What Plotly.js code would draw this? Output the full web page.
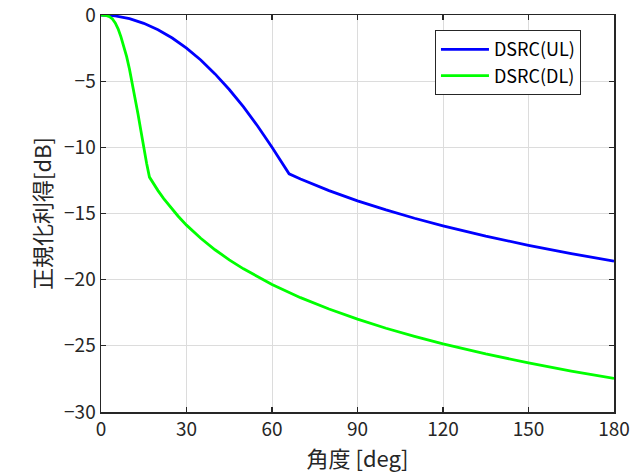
<!DOCTYPE html>
<html>
<head>
<meta charset="utf-8">
<script src="https://cdn.plot.ly/plotly-3.0.1.min.js"></script>
<style>html,body{margin:0;padding:0;background:#fff;}#chart{width:637px;height:473px;}</style>
</head>
<body>
<div id="chart"></div>
<script>
// Angle [deg] and normalized gain [dB]
const ulAngle = [0, 5, 10, 15, 20, 25, 30, 35, 40, 45, 50, 55, 60, 63, 66, 70, 75, 80, 90, 100, 110, 120, 135, 150, 165, 180];
const ulGain  = [0, -0.07, -0.28, -0.63, -1.11, -1.74, -2.5, -3.4, -4.45, -5.63, -6.95, -8.41, -10.0, -11.0, -12.0, -12.39, -12.84, -13.27, -14.04, -14.73, -15.36, -15.93, -16.71, -17.4, -18.03, -18.6];

const dlAngle = [0, 1, 2, 3, 4, 5, 6, 7, 8, 9, 10, 11, 12, 13, 14, 15, 16, 17, 18, 19, 20, 22, 25, 27, 30, 32, 35, 40, 45, 50, 60, 70, 80, 90, 100, 110, 120, 135, 150, 165, 180];
const dlGain  = [0, -0.01, -0.05, -0.13, -0.3, -0.6, -1.05, -1.65, -2.35, -3.15, -4.1, -5.15, -6.3, -7.5, -8.75, -10.05, -11.2, -12.25, -12.6, -12.94, -13.27, -13.88, -14.7, -15.19, -15.88, -16.29, -16.87, -17.74, -18.5, -19.18, -20.36, -21.36, -22.22, -22.98, -23.67, -24.28, -24.85, -25.61, -26.29, -26.91, -27.46];

const seriesNames = ['DSRC(UL)', 'DSRC(DL)'];
const xTicks = [0, 30, 60, 90, 120, 150, 180];
const yTicks = [0, -5, -10, -15, -20, -25, -30];

const FONT = '"Noto Sans CJK JP", "Noto Sans", sans-serif';

const traces = [
  {x: ulAngle, y: ulGain, name: seriesNames[0], mode: 'lines', line: {color: '#0000ff', width: 2.8}},
  {x: dlAngle, y: dlGain, name: seriesNames[1], mode: 'lines', line: {color: '#00ff00', width: 2.8}}
];

const axisCommon = {
  showline: true, mirror: 'ticks', linecolor: '#262626', linewidth: 1.5,
  ticks: 'inside', ticklen: 5, tickwidth: 1.3, tickcolor: '#262626',
  showgrid: true, gridcolor: '#dcdcdc', gridwidth: 1,
  zeroline: false, automargin: false, ticklabeloverflow: 'allow',
  tickfont: {family: FONT, size: 19, color: '#262626'}
};

const layout = {
  width: 637, height: 473,
  margin: {l: 101, r: 23, t: 15, b: 61},
  paper_bgcolor: '#ffffff', plot_bgcolor: '#ffffff',
  font: {family: FONT, color: '#262626'},
  xaxis: Object.assign({}, axisCommon, {
    range: [0, 180], tickvals: xTicks, ticktext: xTicks.map(String),
    title: {text: '角度 [deg]', font: {family: FONT, size: 22, color: '#262626'}, standoff: 0}
  }),
  yaxis: Object.assign({}, axisCommon, {
    range: [-30, 0], tickvals: yTicks,
    title: {text: '正規化利得[dB]', font: {family: FONT, size: 22, color: '#262626'}, standoff: 6}
  }),
  legend: {
    x: 0.651, y: 0.962, xanchor: 'left', yanchor: 'top',
    bgcolor: '#ffffff', bordercolor: '#262626', borderwidth: 1,
    font: {family: FONT, size: 18, color: '#000000'},
    tracegroupgap: 0, itemwidth: 48
  },
  showlegend: true
};

Plotly.newPlot('chart', traces, layout, {staticPlot: true, displayModeBar: false});
</script>
</body>
</html>
